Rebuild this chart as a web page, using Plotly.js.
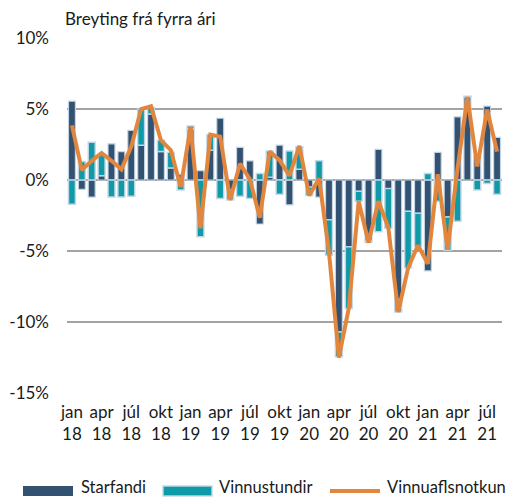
<!DOCTYPE html>
<html>
<head>
<meta charset="utf-8">
<script src="https://cdn.plot.ly/plotly-3.0.1.min.js"></script>
<style>html,body{margin:0;padding:0;background:#fff;}#chart{width:531px;height:498px;}</style>
</head>
<body>
<div id="chart"></div>
<script>
const categories = [
  'jan 18','feb 18','mar 18','apr 18','maí 18','jún 18','júl 18','ágú 18','sep 18','okt 18','nóv 18','des 18',
  'jan 19','feb 19','mar 19','apr 19','maí 19','jún 19','júl 19','ágú 19','sep 19','okt 19','nóv 19','des 19',
  'jan 20','feb 20','mar 20','apr 20','maí 20','jún 20','júl 20','ágú 20','sep 20','okt 20','nóv 20','des 20',
  'jan 21','feb 21','mar 21','apr 21','maí 21','jún 21','júl 21','ágú 21'
];
const starfandi = [
  5.55,-0.65,-1.2,0.3,2.55,2.0,3.5,2.45,4.65,2.0,0.85,0.4,
  3.6,0.65,2.1,4.35,-0.7,2.3,1.35,-3.1,0.2,2.45,-1.75,0.75,
  -0.5,-1.2,-2.8,-10.7,-4.7,-0.8,-4.3,2.15,-0.6,-8.4,-2.2,-2.35,
  -6.4,1.95,-2.6,4.45,5.85,1.7,5.2,3.0
];
const vinnustundir = [
  -1.7,1.3,2.65,1.5,-1.2,-1.2,-1.15,2.55,0.45,0.8,1.1,-0.7,
  0.2,-4.0,1.1,-1.3,-0.7,-1.15,-1.3,0.45,1.85,-1.0,2.05,1.6,
  -0.6,1.35,-2.5,-1.75,-4.35,-0.7,-0.1,-3.65,-2.8,-0.9,-4.0,-2.35,
  0.45,-1.5,-2.35,-2.9,0.05,-0.7,-0.25,-1.0
];
const vinnuaflsnotkun = [
  3.85,0.7,1.35,1.9,1.35,0.75,2.35,5.0,5.2,2.8,2.1,-0.5,
  3.75,-3.4,3.2,3.05,-1.4,1.15,0.05,-2.65,2.0,1.4,0.3,2.4,
  -1.1,0.1,-5.1,-12.5,-9.05,-1.5,-4.4,-1.5,-3.35,-9.3,-6.2,-4.6,
  -5.9,0.4,-4.9,0.8,5.85,0.95,4.95,2.0
];
const tickCategories = ['jan 18','apr 18','júl 18','okt 18','jan 19','apr 19','júl 19','okt 19','jan 20','apr 20','júl 20','okt 20','jan 21','apr 21','júl 21'];
const tickLabels = ['jan<br>18','apr<br>18','júl<br>18','okt<br>18','jan<br>19','apr<br>19','júl<br>19','okt<br>19','jan<br>20','apr<br>20','júl<br>20','okt<br>20','jan<br>21','apr<br>21','júl<br>21'];
const yTickVals = [-15,-10,-5,0,5,10];
const yTickText = ['-15%','-10%','-5%','0%','5%','10%'];
const seriesNames = ['Starfandi','Vinnustundir','Vinnuaflsnotkun'];

const FONT = 'Lato, "Open Sans", sans-serif';
const cDark = '#335272';
const cTeal = '#0f9aa8';
const cOrange = '#e3863d';
const outline = 'rgba(196,214,230,0.95)';

const traces = [
  {type:'bar', name:seriesNames[0], x:categories, y:starfandi,
   marker:{color:cDark, line:{color:outline, width:1.2}}, showlegend:false, hoverinfo:'skip'},
  {type:'bar', name:seriesNames[1], x:categories, y:vinnustundir,
   marker:{color:cTeal, line:{color:outline, width:1.5}}, showlegend:false, hoverinfo:'skip'},
  {type:'scatter', mode:'lines', name:seriesNames[2], x:categories, y:vinnuaflsnotkun,
   line:{color:cOrange, width:4}, showlegend:false, hoverinfo:'skip'}
];

// legend drawn with paper-referenced shapes/annotations
const L = 67, R = 502, T = 38, B = 393;
const px = v => (v - L) / (R - L);
const py = v => (B - v) / (B - T);
const legY = 491;
const shapes = [
  {type:'rect', xref:'paper', yref:'paper', x0:px(23), x1:px(73), y0:py(legY+5), y1:py(legY-5),
   fillcolor:cDark, line:{width:0}},
  {type:'rect', xref:'paper', yref:'paper', x0:px(163), x1:px(212), y0:py(legY+5), y1:py(legY-5),
   fillcolor:cTeal, line:{color:outline, width:1.5}},
  {type:'line', xref:'paper', yref:'paper', x0:px(330), x1:px(380), y0:py(legY), y1:py(legY),
   line:{color:cOrange, width:4}}
];
const legFont = {family:FONT, size:16.5, color:'#1a1a1a'};
const annotations = [
  {xref:'paper', yref:'paper', x:px(63), y:py(18), xanchor:'left', yanchor:'middle', showarrow:false,
   text:'Breyting frá fyrra ári', font:{family:FONT, size:17, color:'#1a1a1a'}},
  {xref:'paper', yref:'paper', x:px(79), y:py(487), xanchor:'left', yanchor:'middle', showarrow:false,
   text:seriesNames[0], font:legFont},
  {xref:'paper', yref:'paper', x:px(217), y:py(487), xanchor:'left', yanchor:'middle', showarrow:false,
   text:seriesNames[1], font:legFont},
  {xref:'paper', yref:'paper', x:px(385), y:py(487), xanchor:'left', yanchor:'middle', showarrow:false,
   text:seriesNames[2], font:legFont}
];

const layout = {
  width:531, height:498,
  margin:{l:L, r:531-R, t:T, b:498-B, pad:0},
  paper_bgcolor:'#fff', plot_bgcolor:'#fff',
  barmode:'relative', bargap:0.3,
  font:{family:FONT, size:16, color:'#1a1a1a'},
  showlegend:false,
  xaxis:{type:'category', tickmode:'array', tickvals:tickCategories, ticktext:tickLabels,
         showgrid:false, zeroline:false, showline:false, ticks:'', tickangle:0, ticklabelstandoff:7,
         tickfont:{family:FONT, size:17, color:'#1a1a1a'}, automargin:false},
  yaxis:{range:[-15,10], tickmode:'array', tickvals:yTickVals, ticktext:yTickText,
         showgrid:true, gridcolor:'#a3a3a3', gridwidth:2, zeroline:false, showline:false,
         ticks:'', ticklabelstandoff:17, tickfont:{family:FONT, size:17, color:'#1a1a1a'}, automargin:false},
  shapes:shapes, annotations:annotations
};

Plotly.newPlot('chart', traces, layout, {staticPlot:true, displayModeBar:false});
</script>
</body>
</html>
